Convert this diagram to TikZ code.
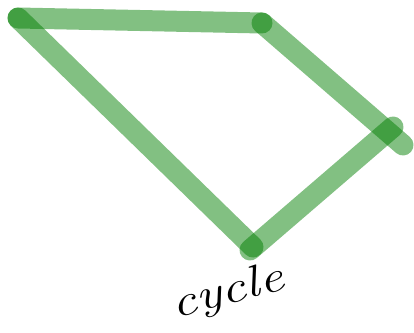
\documentclass[tikz,border=0pt]{standalone}
\definecolor{strokegreen}{RGB}{0,126,0}
\begin{document}
\begin{tikzpicture}[
    x=1pt, y=-1pt,
    stroke/.style={draw=strokegreen, draw opacity=0.49, line width=21pt, line cap=round},
    label/.style={font=\fontsize{44}{48}\selectfont\itshape, text=black, inner sep=0pt},
]
\useasboundingbox (0,0) rectangle (414,332);

% stroke end points
\coordinate (topL) at (18,18);
\coordinate (topR) at (262,23);
\coordinate (leftB) at (253,247);
\coordinate (upR) at (403,145);
\coordinate (lowB) at (250,250);
\coordinate (lowR) at (393,127);

\draw[stroke] (topL) -- (topR);
\draw[stroke] (topL) -- (leftB);
\draw[stroke] (topR) -- (upR);
\draw[stroke] (lowB) -- (lowR);

\node[label, rotate=15, xscale=1.25] (cyc) at (228,293) {cycle};
\end{tikzpicture}
\end{document}
